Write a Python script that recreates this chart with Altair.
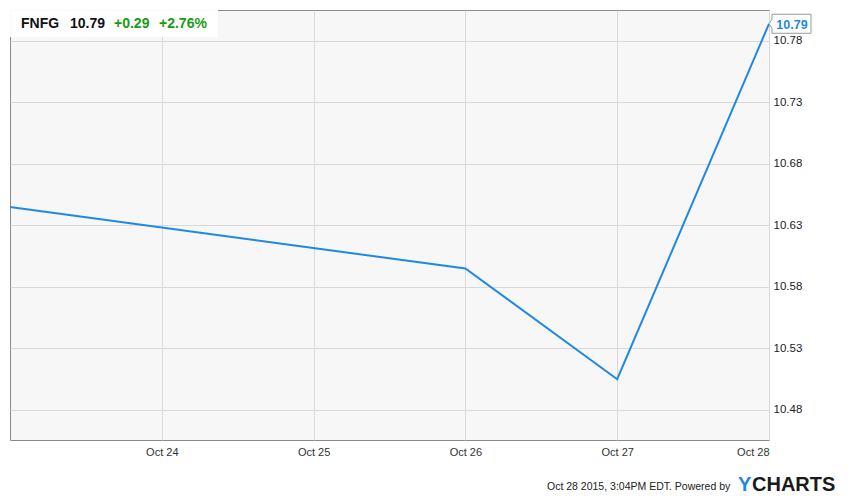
import altair as alt
import pandas as pd

# Data (October 2015)
days = [23, 26, 27, 28]
prices = [10.645, 10.595, 10.505, 10.794]
y_ticks = [10.48, 10.53, 10.58, 10.63, 10.68, 10.73, 10.78]
x_ticks = [24, 25, 26, 27, 28]

ticker = "FNFG"
last_price = "10.79"
change = "+0.29"
change_pct = "+2.76%"
stamp = "Oct 28 2015, 3:04PM EDT.  Powered by"

df = pd.DataFrame({"day": days, "price": prices})
last = df.tail(1)

BLUE = "#1f88e5"
GREEN = "#179b17"
FONT = "Liberation Sans"

xs = alt.Scale(domain=[23, 28], nice=False, zero=False)
ys = alt.Scale(domain=[10.4556, 10.8052], nice=False, zero=False)

x_enc = alt.X("day:Q", scale=xs, axis=alt.Axis(
    values=x_ticks, labelExpr="'Oct ' + datum.value", title=None,
    ticks=False, domain=False, grid=True, gridColor="#d9d9d9",
    labelFontSize=11, labelColor="#333333", labelFont=FONT, labelPadding=6))
y_enc = alt.Y("price:Q", scale=ys, axis=alt.Axis(
    values=y_ticks, format=".2f", orient="right", title=None,
    ticks=False, domain=False, grid=True, gridColor="#d9d9d9",
    labelFontSize=11.5, labelColor="#222222", labelFont=FONT, labelPadding=4))

line = alt.Chart(df).mark_line(color=BLUE, strokeWidth=2).encode(x=x_enc, y=y_enc)

box = alt.Chart(last).mark_point(
    shape="M0,0 L0.136,-0.2 L0.136,-0.432 L1.909,-0.432 L1.909,0.432 L0.136,0.432 L0.136,0.2 Z",
    size=1936, filled=True, fill="white", stroke="#999999", strokeWidth=1, opacity=1
).encode(x=alt.X("day:Q", scale=xs), y=alt.Y("price:Q", scale=ys))

box_text = alt.Chart(last).mark_text(
    align="center", baseline="middle", dx=23, dy=1, fontSize=12.5, fontWeight="bold",
    color=BLUE, font=FONT
).encode(x=alt.X("day:Q", scale=xs), y=alt.Y("price:Q", scale=ys),
         text=alt.Text("price:Q", format=".2f"))

title_bg = alt.Chart(df).mark_rect(fill="white", opacity=0.55).encode(
    x=alt.value(0), x2=alt.value(208), y=alt.value(0), y2=alt.value(27))


def label(txt, xpix, ypix, color, size, weight="bold", align="left"):
    return alt.Chart(pd.DataFrame({"t": [txt]})).mark_text(
        align=align, baseline="alphabetic", fontSize=size, fontWeight=weight,
        color=color, font=FONT
    ).encode(text="t:N", x=alt.value(xpix), y=alt.value(ypix))


title = (label(ticker, 11, 18, "#111111", 14)
         + label(last_price, 60, 18, "#111111", 14)
         + label(change, 104, 18, GREEN, 14)
         + label(change_pct, 149, 18, GREEN, 14))

credits = (label(stamp, 537, 480, "#222222", 10.5, weight="normal")
           + label("Y", 728, 481, BLUE, 20, weight="bold")
           + label("CHARTS", 742, 481, "#1a1a1a", 20, weight="bold"))

chart = alt.layer(title_bg, line, box, box_text, title, credits).properties(
    width=759, height=430, background="white",
    autosize=alt.AutoSizeParams(type="none"),
    padding={"left": 2, "top": 2, "right": 70, "bottom": 56}
).configure_view(fill="#f7f7f7", stroke="#8a8a8a", strokeWidth=1)

chart.save("out.html", embed_options={"renderer": "svg", "actions": False})
